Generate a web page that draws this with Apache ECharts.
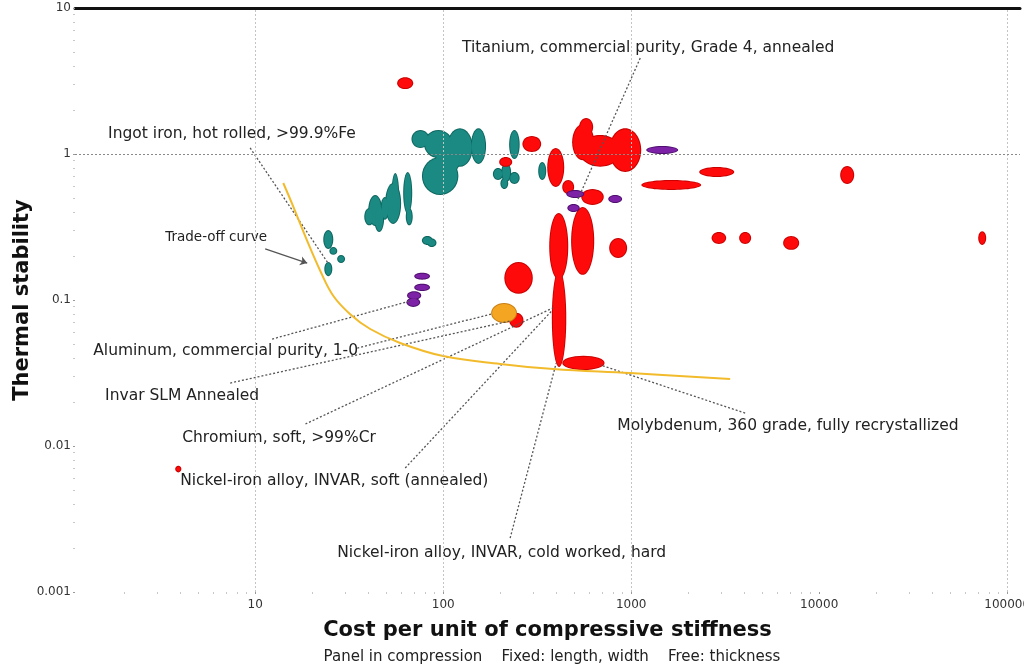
<!DOCTYPE html>
<html>
<head>
<meta charset="utf-8">
<style>
  html, body { margin: 0; padding: 0; background: #fff; overflow: hidden; }
  #chart { width: 1024px; height: 667px; }
</style>
<script src="https://cdn.jsdelivr.net/npm/echarts@6/dist/echarts.min.js"></script>
</head>
<body>
<div id="chart"></div>
<script>
// Material property bubbles, each [costLo, costHi, stabilityLo, stabilityHi]
const tealRanges = [
  [68.6, 83.4, 1.117, 1.44],
  [80, 111, 0.954, 1.44],
  [106, 142, 0.83, 1.48],
  [142, 167, 0.868, 1.48],
  [92, 123, 0.74, 1.23],
  [78, 119, 0.532, 0.939],
  [227, 252, 0.939, 1.44],
  [186, 206, 0.674, 0.789],
  [206, 227, 0.653, 0.854],
  [227, 252, 0.633, 0.741],
  [204, 219, 0.585, 0.674],
  [324, 349, 0.674, 0.868],
  [40.4, 46.8, 0.326, 0.516],
  [43.5, 47.9, 0.297, 0.44],
  [38.5, 42.5, 0.33, 0.42],
  [49.7, 59, 0.337, 0.623],
  [53.7, 57.6, 0.376, 0.73],
  [47, 51, 0.36, 0.5],
  [62, 67.6, 0.395, 0.741],
  [64, 68, 0.33, 0.42],
  [23.3, 25.7, 0.227, 0.297],
  [25.1, 27.0, 0.207, 0.227],
  [27.6, 29.7, 0.182, 0.2],
  [23.6, 25.4, 0.148, 0.179],
  [78, 87, 0.242, 0.27],
  [83, 91, 0.234, 0.26]
]

const redRanges = [
  [57.6, 68.4, 2.83, 3.3],
  [491, 628, 0.92, 1.58],
  [535, 874, 0.83, 1.33],
  [773, 1117, 0.765, 1.48],
  [535, 620, 1.35, 1.74],
  [643, 822, 0.9, 1.23],
  [362, 435, 0.604, 1.08],
  [435, 491, 0.54, 0.653],
  [549, 706, 0.455, 0.567],
  [267, 328, 1.05, 1.31],
  [201, 230, 0.83, 0.939],
  [371, 457, 0.14, 0.388],
  [383, 446, 0.0353, 0.158],
  [485, 628, 0.151, 0.427],
  [773, 940, 0.197, 0.262],
  [214, 296, 0.112, 0.179],
  [227, 264, 0.0655, 0.0804],
  [435, 713, 0.0337, 0.0408],
  [1146, 2328, 0.576, 0.653],
  [2328, 3490, 0.707, 0.802],
  [13090, 15170, 0.633, 0.815],
  [2710, 3162, 0.246, 0.288],
  [3798, 4293, 0.246, 0.288],
  [6510, 7730, 0.224, 0.27],
  [71000, 76400, 0.242, 0.291],
  [3.8, 4.0, 0.0067, 0.0072]
]

const purpleRanges = [
  [1216, 1757, 1.016, 1.117],
  [457, 556, 0.508, 0.558],
  [463, 526, 0.407, 0.448],
  [764, 884, 0.469, 0.516],
  [71, 84, 0.14, 0.151],
  [71, 84, 0.117, 0.127],
  [65, 75.5, 0.102, 0.113],
  [64.5, 74.5, 0.091, 0.102]
]

const orangeRanges = [
  [182, 244, 0.0707, 0.094]
]

// Trade-off curve
const curveCost = [14.1, 15.9, 18.9, 22.2, 26.0, 32.0, 40.9, 59, 100, 201, 385, 988, 3360]
const curveStability = [0.633, 0.44, 0.254, 0.158, 0.107, 0.080, 0.0633, 0.0508, 0.0413, 0.0365, 0.0337, 0.0316, 0.0288]

// Annotations: text anchored at its left-middle point
const noteTexts = [
  'Titanium, commercial purity, Grade 4, annealed',
  'Ingot iron, hot rolled, >99.9%Fe',
  'Aluminum, commercial purity, 1-0',
  'Invar SLM Annealed',
  'Chromium, soft, >99%Cr',
  'Nickel-iron alloy, INVAR, soft (annealed)',
  'Nickel-iron alloy, INVAR, cold worked, hard',
  'Molybdenum, 360 grade, fully recrystallized'
]
const noteCost = [126, 1.65, 1.375, 1.59, 4.09, 3.99, 27.3, 843]
const noteStability = [5.32, 1.37, 0.0448, 0.022, 0.01135, 0.00576, 0.00185, 0.0137]

const curveNote = 'Trade-off curve'
const curveNoteAt = [3.32, 0.266]
const curveArrow = [[11.3, 0.224], [18.9, 0.179]]

// Dotted leader lines: [fromCost, fromStability, toCost, toStability]
const leaders = [
  [1117, 4.54, 516, 0.477],
  [9.4, 1.1, 24.4, 0.179],
  [12.3, 0.054, 66.7, 0.0985],
  [34.9, 0.0469, 182, 0.0804],
  [7.36, 0.027, 227, 0.0718],
  [18.5, 0.01415, 383, 0.0882],
  [62.8, 0.00707, 377, 0.084],
  [227, 0.00234, 399, 0.037],
  [4038, 0.0168, 684, 0.0359]
]

const xTicks = [10, 100, 1000, 10000, 100000]
const xGridLines = [10, 100, 1000, 100000]
const yGridLines = [1]
const xMin = 1.1
const xMax = 117000
const yMin = 0.001
const yMax = 10

function minorTicks(lo, hi) {
  const out = []
  for (let d = lo; d < hi; d++) {
    for (let m = 2; m <= 9; m++) out.push(m * Math.pow(10, d))
  }
  return out
}

const FONT = '"DejaVu Sans", Verdana, sans-serif'

function ellipseSeries(ranges, fill, grow) {
  return {
    type: 'custom',
    coordinateSystem: 'cartesian2d',
    silent: true,
    data: ranges,
    encode: { x: [0, 1], y: [2, 3] },
    renderItem(params, api) {
      const a = api.coord([api.value(0), api.value(2)])
      const b = api.coord([api.value(1), api.value(3)])
      return {
        type: 'ellipse',
        shape: {
          cx: (a[0] + b[0]) / 2,
          cy: (a[1] + b[1]) / 2,
          rx: Math.abs(b[0] - a[0]) / 2 + grow,
          ry: Math.abs(b[1] - a[1]) / 2 + grow
        },
        style: { fill: fill }
      }
    }
  }
}

const chart = echarts.init(document.getElementById('chart'), null, { renderer: 'canvas' })

const gridLineSeries = {
  type: 'line',
  data: [],
  silent: true,
  markLine: {
    silent: true,
    symbol: 'none',
    label: { show: false },
    lineStyle: { color: '#c4c4c4', type: [2, 2], width: 1 },
    data: xGridLines.map(v => ({ xAxis: v }))
      .concat(yGridLines.map(v => ({ yAxis: v, lineStyle: { color: '#8a8a8a', type: [2, 2], width: 1 } })))
  }
}

const option = {
  animation: false,
  backgroundColor: '#fff',
  title: {
    text: 'Panel in compression    Fixed: length, width    Free: thickness',
    left: 547,
    top: 645,
    textAlign: 'center',
    textStyle: { fontSize: 15, fontWeight: 'normal', fontFamily: FONT, color: '#222' }
  },
  grid: { left: 75, right: 4, top: 8, bottom: 75, outerBoundsMode: 'none' },
  xAxis: [
    {
      type: 'log', logBase: 10, min: xMin, max: xMax,
      axisLine: { show: false },
      splitLine: { show: false },
      axisTick: { show: true, length: 2, lineStyle: { color: '#999' }, customValues: xTicks },
      axisLabel: {
        customValues: xTicks, color: '#333', fontFamily: FONT, fontSize: 12, margin: 7,
        formatter: v => String(Math.round(v))
      },
      name: 'Cost per unit of compressive stiffness',
      nameLocation: 'middle',
      nameGap: 28,
      nameMoveOverlap: false,
      nameTextStyle: { fontFamily: FONT, fontSize: 21, fontWeight: 'bold', color: '#111' }
    },
    {
      type: 'log', logBase: 10, min: xMin, max: xMax, position: 'top',
      axisLine: { show: true, lineStyle: { color: '#111', width: 3 } },
      axisTick: { show: false }, axisLabel: { show: false }, splitLine: { show: false }
    },
    {
      type: 'log', logBase: 10, min: xMin, max: xMax, position: 'bottom',
      axisLine: { show: false }, axisLabel: { show: false }, splitLine: { show: false },
      axisTick: { show: true, length: 2, lineStyle: { color: '#c8c8c8' }, customValues: minorTicks(0, 5) }
    }
  ],
  yAxis: [
    {
      type: 'log', logBase: 10, min: yMin, max: yMax,
      axisLine: { show: false },
      splitLine: { show: false },
      axisTick: { show: true, length: 2, lineStyle: { color: '#999' } },
      axisLabel: {
        color: '#333', fontFamily: FONT, fontSize: 12, margin: 4,
        formatter: v => v >= 1 ? String(Math.round(v)) : String(Number(v.toPrecision(1)))
      },
      name: 'Thermal stability',
      nameLocation: 'middle',
      nameRotate: 90,
      nameGap: 42,
      nameMoveOverlap: false,
      nameTextStyle: { fontFamily: FONT, fontSize: 21, fontWeight: 'bold', color: '#111' }
    },
    {
      type: 'log', logBase: 10, min: yMin, max: yMax, position: 'left',
      axisLine: { show: false }, axisLabel: { show: false }, splitLine: { show: false },
      axisTick: { show: true, length: 2, lineStyle: { color: '#c8c8c8' }, customValues: minorTicks(-3, 1) }
    }
  ],
  series: [
    gridLineSeries,
    ellipseSeries(tealRanges, '#0e6660', 1),
    ellipseSeries(tealRanges, '#1b8a82', 0),
    ellipseSeries(redRanges, '#c80000', 1),
    ellipseSeries(redRanges, '#ff0a0a', 0),
    ellipseSeries(purpleRanges, '#4e0f6e', 1),
    ellipseSeries(purpleRanges, '#7d22a6', 0),
    ellipseSeries(orangeRanges, '#c97d10', 1),
    ellipseSeries(orangeRanges, '#f4a623', 0),
    {
      type: 'line',
      data: curveCost.map((c, i) => [c, curveStability[i]]),
      smooth: 0.4,
      symbol: 'none',
      silent: true,
      lineStyle: { color: '#f2bb2c', width: 2 }
    },
    {
      type: 'lines',
      coordinateSystem: 'cartesian2d',
      silent: true,
      symbol: 'none',
      lineStyle: { color: '#555', width: 1.3, type: [2, 2], opacity: 1 },
      data: leaders.map(l => ({ coords: [[l[0], l[1]], [l[2], l[3]]] }))
    },
    {
      type: 'lines',
      coordinateSystem: 'cartesian2d',
      silent: true,
      symbol: ['none', 'arrow'],
      symbolSize: 7,
      lineStyle: { color: '#555', width: 1.2, opacity: 1 },
      data: [{ coords: curveArrow }]
    },
    {
      type: 'custom',
      coordinateSystem: 'cartesian2d',
      silent: true,
      data: noteCost.map((c, i) => [c, noteStability[i]]),
      renderItem(params, api) {
        const p = api.coord([api.value(0), api.value(1)])
        return {
          type: 'text', x: p[0], y: p[1],
          style: { text: noteTexts[params.dataIndex], fill: '#222', font: '15.5px ' + FONT, align: 'left', verticalAlign: 'middle' }
        }
      }
    },
    {
      type: 'custom',
      coordinateSystem: 'cartesian2d',
      silent: true,
      data: [curveNoteAt],
      renderItem(params, api) {
        const p = api.coord([api.value(0), api.value(1)])
        return {
          type: 'text', x: p[0], y: p[1],
          style: { text: curveNote, fill: '#222', font: '13.5px ' + FONT, align: 'left', verticalAlign: 'middle' }
        }
      }
    }
  ]
}

chart.setOption(option)
</script>
</body>
</html>
